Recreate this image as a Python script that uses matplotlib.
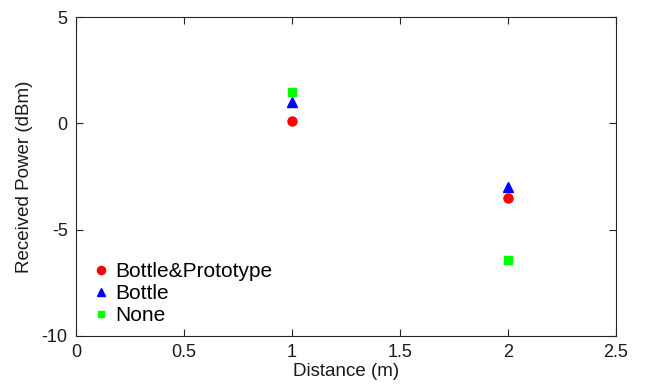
import matplotlib
matplotlib.use("Agg")
import matplotlib.pyplot as plt

plt.rcParams['font.family'] = ['Liberation Sans', 'DejaVu Sans']

distances = [1, 2]
bottle_prototype = [0.12, -3.52]
bottle = [1.0, -2.98]
none = [1.45, -6.42]
x_ticks = [0, 0.5, 1, 1.5, 2, 2.5]
y_ticks = [-10, -5, 0, 5]

fig = plt.figure(figsize=(6.46, 3.88), dpi=100)
ax = fig.add_axes([76/646, 1 - 336/388, 540/646, 319/388])

ax.plot(distances, bottle_prototype, 'o', color='#ff0000', markersize=6.5, label='Bottle&Prototype', linestyle='none')
ax.plot(distances, bottle, '^', color='#0000ff', markersize=7, label='Bottle', linestyle='none')
ax.plot(distances, none, 's', color='#00ff00', markersize=5.5, label='None', linestyle='none')

ax.set_xlim(0, 2.5)
ax.set_ylim(-10, 5)
ax.set_xticks(x_ticks)
ax.set_xticklabels(['0', '0.5', '1', '1.5', '2', '2.5'])
ax.set_yticks(y_ticks)
ax.set_yticklabels(['-10', '-5', '0', '5'])
ax.tick_params(direction='in', top=True, right=True, length=5, width=0.8,
               colors='#262626', labelsize=13, labelcolor='#1a1a1a', pad=6)
for s in ax.spines.values():
    s.set_color('#262626')
    s.set_linewidth(0.8)

ax.set_xlabel('Distance (m)', fontsize=13.5, color='#1a1a1a', labelpad=1)
ax.set_ylabel('Received Power (dBm)', fontsize=13.5, color='#1a1a1a', labelpad=6)

leg = ax.legend(loc='lower left', frameon=False, fontsize=15, handlelength=0.8,
                handletextpad=0.3, labelspacing=0.15, borderaxespad=0.0,
                borderpad=0.0, bbox_to_anchor=(0.03, 0.033), markerscale=0.9)

fig.savefig('out.png', dpi=100)
